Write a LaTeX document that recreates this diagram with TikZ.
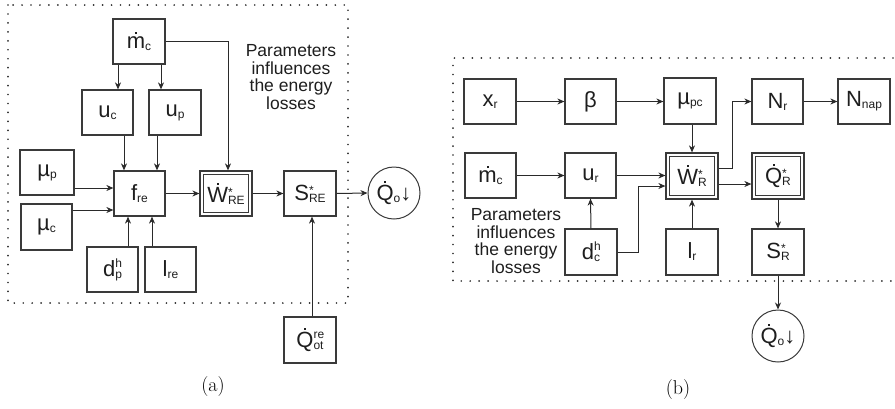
\documentclass[tikz,border=0pt]{standalone}
\usepackage{fontspec}
\newfontfamily\lsans{Liberation Sans}
\usetikzlibrary{arrows.meta}

\definecolor{boxc}{HTML}{3A3A3A}
\definecolor{linec}{HTML}{2A2A2A}
\definecolor{txt}{HTML}{1E1E1E}

% a small dot placed over a symbol (time derivative)
\newcommand\dotop[1]{\leavevmode\setbox0\hbox{#1}%
  \rlap{\hbox to\wd0{\hss\raise\dimexpr\ht0+2.6pt\relax\hbox{\vrule width 2pt height 2pt}\hss}}\box0}
% lowered index
\newcommand\lo[1]{\lower2pt\hbox{\fontsize{12}{12}\selectfont #1}}
% stacked upper and lower index
\newcommand\hilo[3][9pt]{\setbox1\hbox{\fontsize{12}{12}\selectfont #2}%
  \setbox2\hbox{\fontsize{12}{12}\selectfont #3}%
  \rlap{\raise#1\box1}\lower2pt\box2}

\tikzset{
  box/.style={draw=boxc, line width=1.2pt, minimum width=52pt, minimum height=45pt,
    inner sep=0pt, text=txt, font=\lsans\fontsize{22}{24}\selectfont},
  dbox/.style={box, path picture={\draw[boxc, line width=1.2pt]
      ([shift={(3.2pt,3.2pt)}]path picture bounding box.south west) rectangle
      ([shift={(-3.2pt,-3.2pt)}]path picture bounding box.north east);}},
  outc/.style={draw=boxc, line width=1pt, circle, minimum size=52pt, inner sep=0pt,
    text=txt, font=\lsans\fontsize{22}{24}\selectfont},
  flow/.style={draw=linec, line width=1pt, -{Stealth[length=7pt,width=6pt,inset=2.2pt]}},
  dotframe/.style={draw=linec, line width=1.9pt, line cap=round, dash pattern=on 0pt off 8.95pt},
  note/.style={align=center, text=txt, font=\lsans\fontsize{17.5}{17.7}\selectfont},
  captext/.style={text=black, font=\fontsize{20}{22}\selectfont}
}

\begin{document}
\begin{tikzpicture}[x=1pt, y=-1pt]
\useasboundingbox (0,0) rectangle (895,408);

% ---------------- (a) ----------------
\draw[dotframe] (8,5) rectangle (348,303);

\node[box] (mca) at (139,41.5) {\dotop{m}\lo{c}};
\node[box, minimum width=51pt] (uc) at (107.5,112.5) {u\lo{c}};
\node[box] (up) at (175,112.5) {u\lo{p}};
\node[box, minimum width=54pt] (mup) at (47,172.5) {µ\lo{p}};
\node[box, minimum width=51pt, minimum height=46pt] (muc) at (46.5,227) {µ\lo{c}};
\node[box, minimum width=51pt] (fre) at (139.5,193.5) {f\lo{re}};
\node[dbox] (wre) at (226,193.5) {\dotop{W}\hilo[6pt]{*}{RE}};
\node[box] (sre) at (310,193.5) {S\hilo[6pt]{*}{RE}};
\node[outc] (qoa) at (394,193) {\dotop{Q}\lo{o}↓};
\node[box, minimum width=51pt] (dp) at (112.5,269.5) {d\hilo{h}{p}};
\node[box, minimum width=51pt] (lre) at (170.5,269.5) {l\lo{re}};
\node[box, minimum height=46pt] (qot) at (310,340) {\dotop{Q}\hilo{re}{ot}};

\node[note] (pa) at (291,77) {Parameters\\influences\\the energy\\losses};
\node[captext] (capa) at (213,387) {(a)};

\draw[flow] ([xshift=-21pt]mca.south) -- ([xshift=10.5pt]uc.north);
\draw[flow] ([xshift=22pt]mca.south) -- ([xshift=-14pt]up.north);
\draw[flow] (mca.east) -| ([xshift=2pt]wre.north);
\draw[flow] ([xshift=16.5pt]uc.south) -- ([xshift=-15.5pt]fre.north);
\draw[flow] ([xshift=-18pt]up.south) -- ([xshift=17.5pt]fre.north);
\draw[flow] ([yshift=-15.5pt]mup.east) -- ([yshift=5.5pt]fre.west);
\draw[flow] ([yshift=17pt]muc.east) -- ([yshift=-16.5pt]fre.west);
\draw[flow] ([xshift=15.5pt]dp.north) -- ([xshift=-11.5pt]fre.south);
\draw[flow] ([xshift=-18.5pt]lre.north) -- ([xshift=12.5pt]fre.south);
\draw[flow] (fre.east) -- (wre.west);
\draw[flow] (wre.east) -- (sre.west);
\draw[flow] (sre.east) -- (qoa.west);
\draw[flow] ([xshift=2pt]qot.north) -- ([xshift=2pt]sre.south);

% ---------------- (b) ----------------
\draw[dotframe] (893,58) -- (453,58) -- (453,281) -- (893,281);

\node[box] (xr) at (490,101.5) {x\lo{r}};
\node[box, minimum width=51pt] (beta) at (590.5,101.5) {β};
\node[box, minimum height=46pt] (mupc) at (690,101) {µ\lo{pc}};
\node[box, minimum width=51pt] (nr) at (777.5,101.5) {N\lo{r}};
\node[box] (nnap) at (864,101.5) {N\lo{nap}};
\node[box, minimum width=51pt] (mcb) at (490.5,175.5) {\dotop{m}\lo{c}};
\node[box, minimum width=51pt] (ur) at (590.5,175.5) {u\lo{r}};
\node[dbox, minimum height=46pt] (wr) at (692,176) {\dotop{W}\hilo[6pt]{*}{R}};
\node[dbox, minimum height=46pt] (qr) at (778,176) {\dotop{Q}\hilo[6pt]{*}{R}};
\node[box, minimum height=46pt] (dc) at (591,252) {d\hilo{h}{c}};
\node[box, minimum height=46pt] (lr) at (692,252) {l\lo{r}};
\node[box, minimum height=46pt] (sr) at (778,252) {S\hilo[6pt]{*}{R}};
\node[outc] (qob) at (778,336) {\dotop{Q}\lo{o}↓};

\node[note] (pb) at (516,241) {Parameters\\influences\\the energy\\losses};
\node[captext] (capb) at (678,390) {(b)};

\draw[flow] (xr.east) -- (beta.west);
\draw[flow] (beta.east) -- (mupc.west |- beta.east);
\draw[flow] (nr.east) -- (nnap.west);
\draw[flow] (mcb.east) -- (ur.west);
\draw[flow] (ur.east) -- (wr.west |- ur.east);
\draw[flow] (dc.east) -- ++(21,0) |- ([yshift=-10pt]wr.west);
\draw[flow] (dc.north) -- (ur.south);
\draw[flow] (mupc.south -| wr.north) -- (wr.north);
\draw[flow] (lr.north) -- (wr.south);
\draw[flow] ([yshift=8pt]wr.east) -- ++(14,0) |- (nr.west);
\draw[flow] ([yshift=-8pt]wr.east) -- ([yshift=-8pt]qr.west);
\draw[flow] (qr.south) -- (sr.north);
\draw[flow] (sr.south) -- (qob.north);
\end{tikzpicture}
\end{document}
